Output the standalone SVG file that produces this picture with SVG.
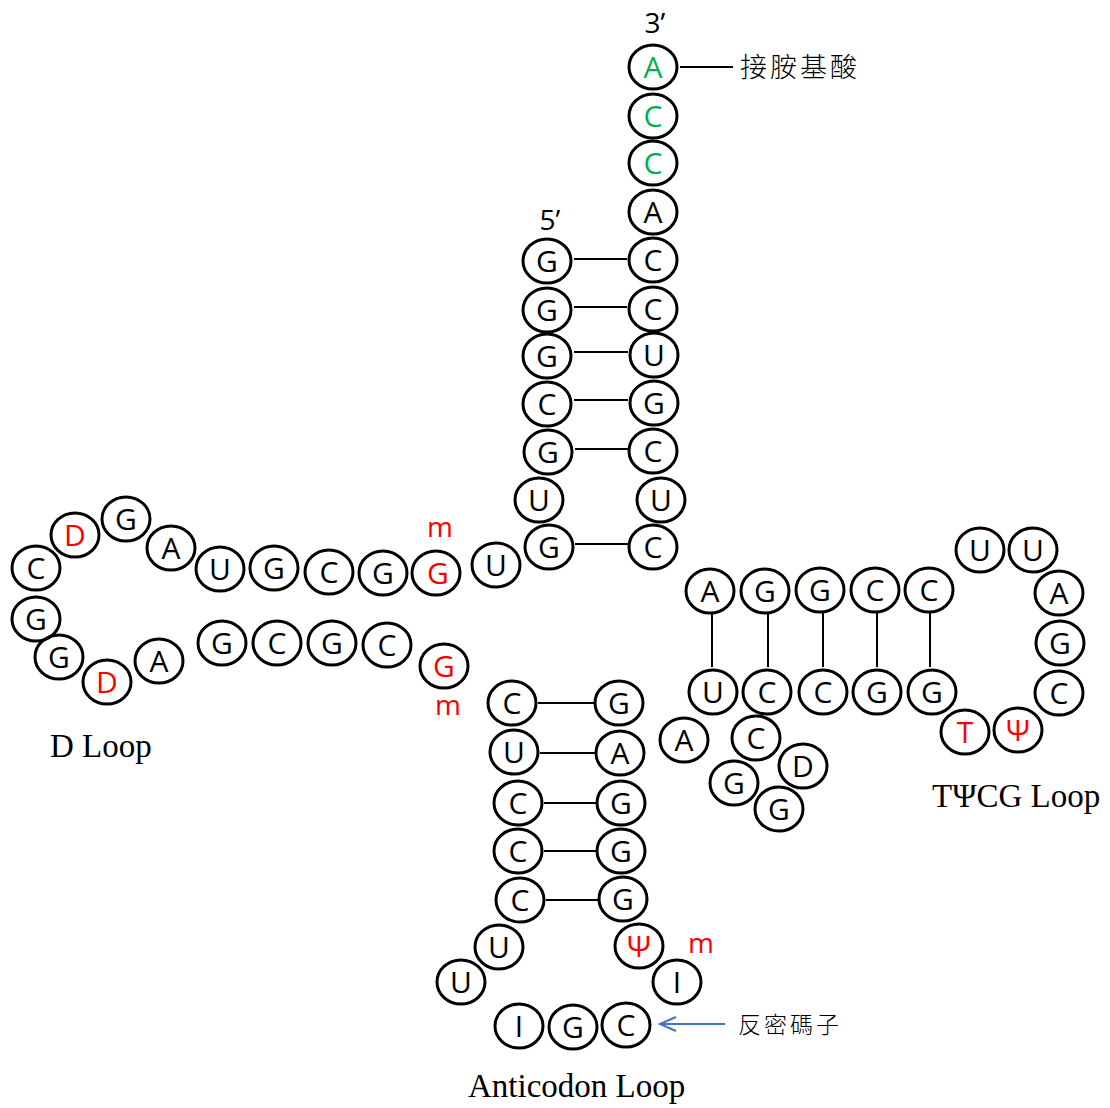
<svg xmlns="http://www.w3.org/2000/svg" width="1110" height="1108" viewBox="0 0 1110 1108">
<defs>
<style>
.n ellipse{fill:none;stroke:#000;stroke-width:3}
.n text{font-family:"Open Sans","DejaVu Sans",sans-serif;font-size:30px;text-anchor:middle;fill:#000}
.n text.r{fill:#FF0000}
.n text.g{fill:#00B050}
.m{font-family:"Open Sans","DejaVu Sans",sans-serif;font-size:28px;fill:#FF0000;text-anchor:middle}
.p{font-family:"Open Sans","DejaVu Sans",sans-serif;font-size:28px;fill:#000;text-anchor:middle}
.lbl{font-family:"Liberation Serif","Times New Roman",serif;font-size:33px;fill:#000}
.cjk{font-family:"Noto Sans CJK TC","Noto Sans CJK SC",sans-serif;fill:#000;font-weight:300}
#connectors line{stroke:#000;stroke-width:2}
</style>
</defs>
<rect width="1110" height="1108" fill="#fff"/>

<g id="connectors">
<line x1="680" y1="67" x2="733" y2="67"/>
<line x1="574" y1="259" x2="627" y2="259"/>
<line x1="574" y1="307" x2="627" y2="307"/>
<line x1="574" y1="352" x2="628" y2="352"/>
<line x1="574" y1="400" x2="628" y2="400"/>
<line x1="575" y1="449" x2="628" y2="449"/>
<line x1="575" y1="544" x2="628" y2="544"/>
<line x1="538" y1="703" x2="594" y2="703"/>
<line x1="540" y1="753" x2="595" y2="753"/>
<line x1="544" y1="803" x2="596" y2="803"/>
<line x1="544" y1="851" x2="596" y2="851"/>
<line x1="546" y1="900" x2="598" y2="900"/>
<line x1="712" y1="613" x2="712" y2="667"/>
<line x1="768" y1="613" x2="768" y2="667"/>
<line x1="823" y1="613" x2="823" y2="667"/>
<line x1="877" y1="613" x2="877" y2="667"/>
<line x1="930" y1="613" x2="930" y2="667"/>
<g id="anticodon-arrow" fill="none" stroke="#4472C4" stroke-width="2">
<line x1="725" y1="1024" x2="661" y2="1024" style="stroke:#4472C4"/>
<polyline points="676,1017 660,1024 676,1031"/>
</g>
</g>

<!-- acceptor stem 3' side -->
<g id="a1" class="n"><ellipse cx="653" cy="67" rx="24" ry="22"/><text x="653" y="78" class="g">A</text></g>
<g id="a2" class="n"><ellipse cx="653" cy="116" rx="24" ry="22"/><text x="653" y="127" class="g">C</text></g>
<g id="a3" class="n"><ellipse cx="653" cy="163" rx="24" ry="22"/><text x="653" y="174" class="g">C</text></g>
<g id="a4" class="n"><ellipse cx="653" cy="212" rx="24" ry="22"/><text x="653" y="223">A</text></g>
<g id="a5" class="n"><ellipse cx="653" cy="260" rx="24" ry="22"/><text x="653" y="271">C</text></g>
<g id="a6" class="n"><ellipse cx="653" cy="309" rx="24" ry="22"/><text x="653" y="320">C</text></g>
<g id="a7" class="n"><ellipse cx="654" cy="355" rx="24" ry="22"/><text x="654" y="366">U</text></g>
<g id="a8" class="n"><ellipse cx="654" cy="403" rx="24" ry="22"/><text x="654" y="414">G</text></g>
<g id="a9" class="n"><ellipse cx="653" cy="451" rx="24" ry="22"/><text x="653" y="462">C</text></g>
<g id="a10" class="n"><ellipse cx="661" cy="500" rx="24" ry="22"/><text x="661" y="511">U</text></g>
<g id="a11" class="n"><ellipse cx="653" cy="547" rx="24" ry="22"/><text x="653" y="558">C</text></g>

<!-- acceptor stem 5' side -->
<g id="b1" class="n"><ellipse cx="547" cy="261" rx="24" ry="22"/><text x="547" y="272">G</text></g>
<g id="b2" class="n"><ellipse cx="547" cy="310" rx="24" ry="22"/><text x="547" y="321">G</text></g>
<g id="b3" class="n"><ellipse cx="547" cy="356" rx="24" ry="22"/><text x="547" y="367">G</text></g>
<g id="b4" class="n"><ellipse cx="547" cy="404" rx="24" ry="22"/><text x="547" y="415">C</text></g>
<g id="b5" class="n"><ellipse cx="548" cy="452" rx="24" ry="22"/><text x="548" y="463">G</text></g>
<g id="b6" class="n"><ellipse cx="539" cy="500" rx="24" ry="22"/><text x="539" y="511">U</text></g>
<g id="b7" class="n"><ellipse cx="549" cy="547" rx="24" ry="22"/><text x="549" y="558">G</text></g>

<!-- D arm -->
<g id="d1" class="n"><ellipse cx="496" cy="565" rx="24" ry="22"/><text x="496" y="576">U</text></g>
<g id="d2" class="n"><ellipse cx="436" cy="573" rx="24" ry="22"/><text x="438" y="584" class="r">G</text></g>
<g id="d3" class="n"><ellipse cx="383" cy="573" rx="24" ry="22"/><text x="383" y="584">G</text></g>
<g id="d4" class="n"><ellipse cx="329" cy="572" rx="24" ry="22"/><text x="329" y="583">C</text></g>
<g id="d5" class="n"><ellipse cx="274" cy="568" rx="24" ry="22"/><text x="274" y="579">G</text></g>
<g id="d6" class="n"><ellipse cx="220" cy="569" rx="24" ry="22"/><text x="220" y="580">U</text></g>
<g id="d7" class="n"><ellipse cx="171" cy="548" rx="24" ry="22"/><text x="171" y="559">A</text></g>
<g id="d8" class="n"><ellipse cx="126" cy="519" rx="24" ry="22"/><text x="126" y="530">G</text></g>
<g id="d9" class="n"><ellipse cx="75" cy="535" rx="24" ry="22"/><text x="75" y="546" class="r">D</text></g>
<g id="d10" class="n"><ellipse cx="36" cy="568" rx="24" ry="22"/><text x="36" y="579">C</text></g>
<g id="d11" class="n"><ellipse cx="36" cy="619" rx="24" ry="22"/><text x="36" y="630">G</text></g>
<g id="d12" class="n"><ellipse cx="59" cy="657" rx="24" ry="22"/><text x="59" y="668">G</text></g>
<g id="d13" class="n"><ellipse cx="107" cy="682" rx="24" ry="22"/><text x="107" y="693" class="r">D</text></g>
<g id="d14" class="n"><ellipse cx="159" cy="661" rx="24" ry="22"/><text x="159" y="672">A</text></g>
<g id="d15" class="n"><ellipse cx="222" cy="643" rx="24" ry="22"/><text x="222" y="654">G</text></g>
<g id="d16" class="n"><ellipse cx="277" cy="643" rx="24" ry="22"/><text x="277" y="654">C</text></g>
<g id="d17" class="n"><ellipse cx="332" cy="643" rx="24" ry="22"/><text x="332" y="654">G</text></g>
<g id="d18" class="n"><ellipse cx="387" cy="645" rx="24" ry="22"/><text x="387" y="656">C</text></g>
<g id="d19" class="n"><ellipse cx="444" cy="666" rx="24" ry="22"/><text x="444" y="677" class="r">G</text></g>

<!-- anticodon arm -->
<g id="c1" class="n"><ellipse cx="512" cy="703" rx="24" ry="22"/><text x="512" y="714">C</text></g>
<g id="c2" class="n"><ellipse cx="514" cy="752" rx="24" ry="22"/><text x="514" y="763">U</text></g>
<g id="c3" class="n"><ellipse cx="518" cy="803" rx="24" ry="22"/><text x="518" y="814">C</text></g>
<g id="c4" class="n"><ellipse cx="518" cy="851" rx="24" ry="22"/><text x="518" y="862">C</text></g>
<g id="c5" class="n"><ellipse cx="520" cy="900" rx="24" ry="22"/><text x="520" y="911">C</text></g>
<g id="c6" class="n"><ellipse cx="499" cy="947" rx="24" ry="22"/><text x="499" y="958">U</text></g>
<g id="c7" class="n"><ellipse cx="461" cy="982" rx="24" ry="22"/><text x="461" y="993">U</text></g>
<g id="c8" class="n"><ellipse cx="519" cy="1026" rx="24" ry="22"/><text x="519" y="1037">I</text></g>
<g id="c9" class="n"><ellipse cx="573" cy="1027" rx="24" ry="22"/><text x="573" y="1038">G</text></g>
<g id="c10" class="n"><ellipse cx="626" cy="1025" rx="24" ry="22"/><text x="626" y="1036">C</text></g>
<g id="c11" class="n"><ellipse cx="677" cy="982" rx="24" ry="22"/><text x="677" y="993">I</text></g>
<g id="c12" class="n"><ellipse cx="639" cy="946" rx="24" ry="22"/><text x="639" y="957" class="r">Ψ</text></g>
<g id="c13" class="n"><ellipse cx="623" cy="899" rx="24" ry="22"/><text x="623" y="910">G</text></g>
<g id="c14" class="n"><ellipse cx="621" cy="851" rx="24" ry="22"/><text x="621" y="862">G</text></g>
<g id="c15" class="n"><ellipse cx="621" cy="803" rx="24" ry="22"/><text x="621" y="814">G</text></g>
<g id="c16" class="n"><ellipse cx="620" cy="753" rx="24" ry="22"/><text x="620" y="764">A</text></g>
<g id="c17" class="n"><ellipse cx="619" cy="703" rx="24" ry="22"/><text x="619" y="714">G</text></g>

<!-- variable loop -->
<g id="v1" class="n"><ellipse cx="684" cy="740" rx="24" ry="22"/><text x="684" y="751">A</text></g>
<g id="v2" class="n"><ellipse cx="734" cy="783" rx="24" ry="22"/><text x="734" y="794">G</text></g>
<g id="v3" class="n"><ellipse cx="779" cy="809" rx="24" ry="22"/><text x="779" y="820">G</text></g>
<g id="v4" class="n"><ellipse cx="803" cy="766" rx="24" ry="22"/><text x="803" y="777">D</text></g>
<g id="v5" class="n"><ellipse cx="756" cy="738" rx="24" ry="22"/><text x="756" y="749">C</text></g>

<!-- TΨC arm -->
<g id="t1" class="n"><ellipse cx="713" cy="692" rx="24" ry="22"/><text x="713" y="703">U</text></g>
<g id="t2" class="n"><ellipse cx="767" cy="692" rx="24" ry="22"/><text x="767" y="703">C</text></g>
<g id="t3" class="n"><ellipse cx="823" cy="692" rx="24" ry="22"/><text x="823" y="703">C</text></g>
<g id="t4" class="n"><ellipse cx="877" cy="692" rx="24" ry="22"/><text x="877" y="703">G</text></g>
<g id="t5" class="n"><ellipse cx="932" cy="692" rx="24" ry="22"/><text x="932" y="703">G</text></g>
<g id="t6" class="n"><ellipse cx="965" cy="732" rx="24" ry="22"/><text x="965" y="743" class="r">T</text></g>
<g id="t7" class="n"><ellipse cx="1018" cy="730" rx="24" ry="22"/><text x="1018" y="741" class="r">Ψ</text></g>
<g id="t8" class="n"><ellipse cx="1059" cy="693" rx="24" ry="22"/><text x="1059" y="704">C</text></g>
<g id="t9" class="n"><ellipse cx="1060" cy="643" rx="24" ry="22"/><text x="1060" y="654">G</text></g>
<g id="t10" class="n"><ellipse cx="1059" cy="593" rx="24" ry="22"/><text x="1059" y="604">A</text></g>
<g id="t11" class="n"><ellipse cx="1033" cy="550" rx="24" ry="22"/><text x="1033" y="561">U</text></g>
<g id="t12" class="n"><ellipse cx="980" cy="550" rx="24" ry="22"/><text x="980" y="561">U</text></g>
<g id="t13" class="n"><ellipse cx="929" cy="590" rx="24" ry="22"/><text x="929" y="601">C</text></g>
<g id="t14" class="n"><ellipse cx="875" cy="590" rx="24" ry="22"/><text x="875" y="601">C</text></g>
<g id="t15" class="n"><ellipse cx="820" cy="590" rx="24" ry="22"/><text x="820" y="601">G</text></g>
<g id="t16" class="n"><ellipse cx="765" cy="591" rx="24" ry="22"/><text x="765" y="602">G</text></g>
<g id="t17" class="n"><ellipse cx="710" cy="591" rx="24" ry="22"/><text x="710" y="602">A</text></g>

<!-- labels -->
<text class="p" x="655" y="33">3’</text>
<text class="p" x="550" y="230">5’</text>
<text class="m" x="440" y="537">m</text>
<text class="m" x="448" y="715">m</text>
<text class="m" x="701" y="953">m</text>
<text class="cjk" x="740" y="77" style="font-size:27px;letter-spacing:3px">接胺基酸</text>
<text class="cjk" x="738" y="1033" style="font-size:23px;letter-spacing:3px">反密碼子</text>
<text class="lbl" x="50" y="757">D Loop</text>
<text class="lbl" x="932" y="807">TΨCG Loop</text>
<text class="lbl" x="468" y="1097">Anticodon Loop</text>
</svg>
